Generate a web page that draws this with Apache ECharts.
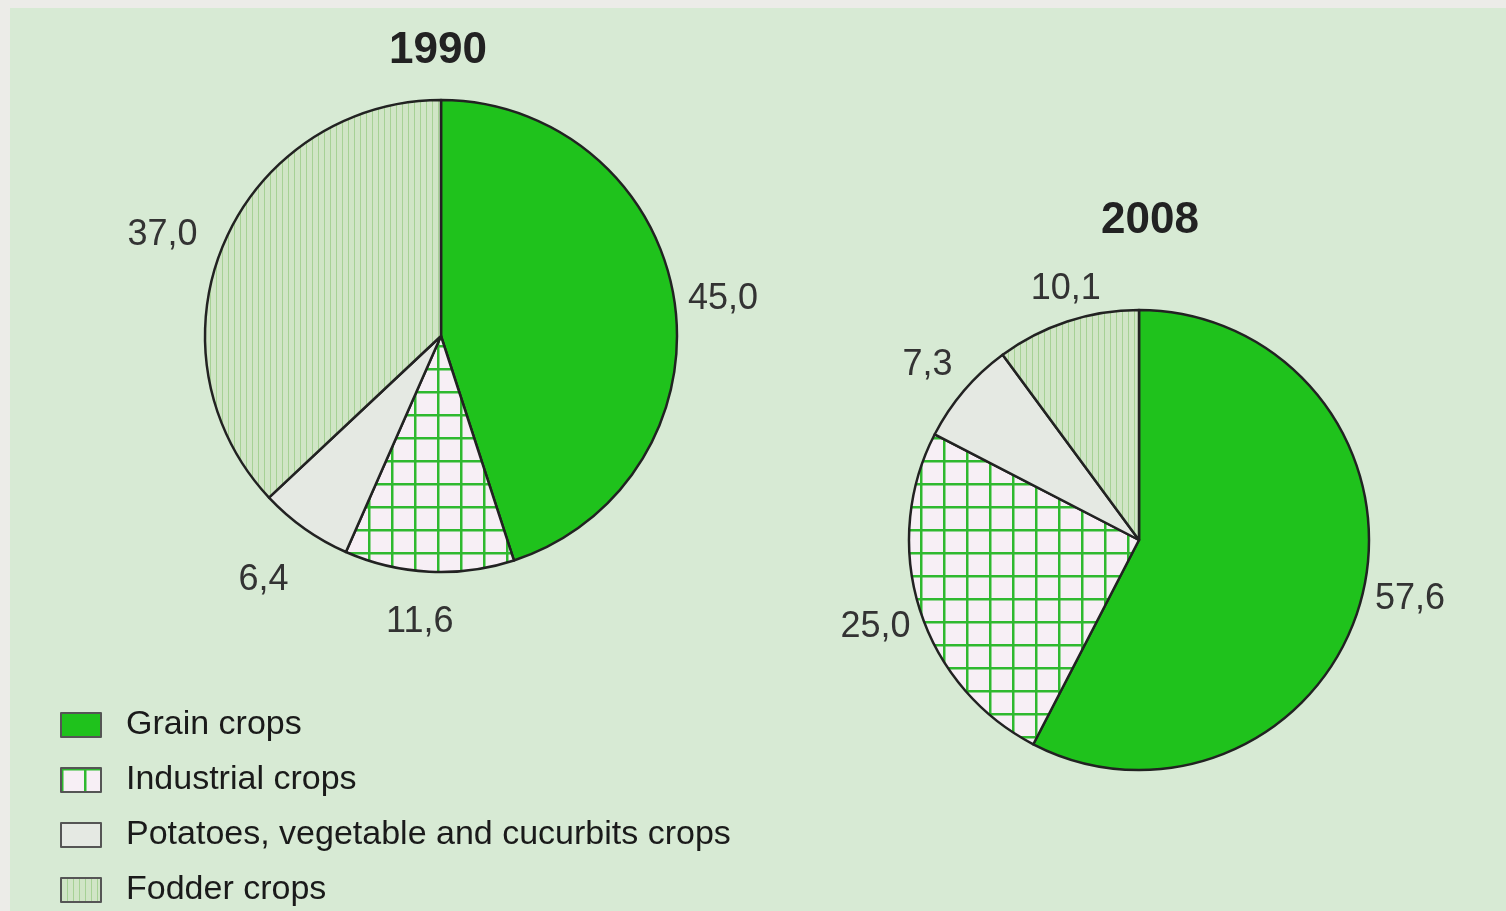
<!DOCTYPE html>
<html>
<head>
<meta charset="utf-8">
<script src="https://cdn.jsdelivr.net/npm/echarts@6/dist/echarts.min.js"></script>
<style>
html,body{margin:0;padding:0;background:#ecece8;}
#paper{position:absolute;left:10px;top:8px;width:1496px;height:903px;background:#d7ead4;}
#chart{position:absolute;left:0;top:0;width:1506px;height:911px;}
</style>
</head>
<body>
<div id="paper"></div>
<div id="chart"></div>
<script>
var categories  = ['Grain crops','Industrial crops','Potatoes, vegetable and cucurbits crops','Fodder crops'];
var years       = ['1990','2008'];
var values1990  = [45.0, 11.6, 6.4, 37.0];
var values2008  = [57.6, 25.0, 7.3, 10.1];

// label nudges [dx,dy] per slice, per pie
var labelShift  = [
    [[-5,2],[30,36],[-3,40],[-9,-2]],
    [[-6,1],[9,13],[4,-16],[43,-19]]
];

function makePattern(w,h,bg,fg,grid,lw){
    var c = document.createElement('canvas');
    c.width = w;
    c.height = h;
    var ctx = c.getContext('2d');
    ctx.fillStyle = bg;
    ctx.fillRect(0,0,w,h);
    ctx.fillStyle = fg;
    ctx.fillRect(0,0,lw,h);
    if(grid){
        ctx.fillRect(0,0,w,lw);
    }
    return {image:c, repeat:'repeat'};
}

var fills = [
    '#1fc21c',
    makePattern(23,23,'#f7eff5','#2fb92f',true,2.5),
    '#e5e9e3',
    makePattern(6,6,'#d0e5c6','#a6d195',false,1)
];

function buildData(vals){
    var arr = new Array();
    for(var i=0;i<categories.length;i++){
        arr.push({
            name:categories[i],
            value:vals[i],
            itemStyle:{color:fills[i]}
        });
    }
    return arr;
}

function fmt(p){
    return p.value.toFixed(1).replace('.',',');
}

var font = "'Liberation Sans', Arial, sans-serif";

function pieSeries(idx,center,r,vals){
    return {
        name:years[idx],
        type:'pie',
        center:center,
        radius:[0,r],
        startAngle:90,
        clockwise:true,
        data:buildData(vals),
        itemStyle:{borderColor:'#222', borderWidth:2.5},
        label:{show:true, position:'outside', formatter:fmt,
               fontFamily:font, fontSize:36, color:'#333'},
        labelLine:{show:false, length:14, length2:0},
        labelLayout:function(p){
            var s = labelShift[idx][p.dataIndex];
            return {dx:s[0], dy:s[1]};
        },
        emphasis:{disabled:true}
    };
}

var chart = echarts.init(document.getElementById('chart'));
var option = {
    backgroundColor:'transparent',
    animation:false,
    title:[
        {text:years[0], left:433, top:24, textAlign:'center',
         textStyle:{fontFamily:font, fontSize:44, fontWeight:'bold', color:'#222'}},
        {text:years[1], left:1145, top:194, textAlign:'center',
         textStyle:{fontFamily:font, fontSize:44, fontWeight:'bold', color:'#222'}}
    ],
    legend:{
        orient:'vertical',
        left:55,
        top:703,
        height:210,
        icon:'rect',
        itemWidth:40,
        itemHeight:24,
        itemGap:21,
        selectedMode:false,
        data:categories,
        itemStyle:{borderColor:'#555', borderWidth:2},
        textStyle:{fontFamily:font, fontSize:34, color:'#1a1a1a', padding:[0,0,0,20]}
    },
    series:[
        pieSeries(0,[441,336],236,values1990),
        pieSeries(1,[1139,540],230,values2008)
    ]
};
chart.setOption(option);
</script>
</body>
</html>
